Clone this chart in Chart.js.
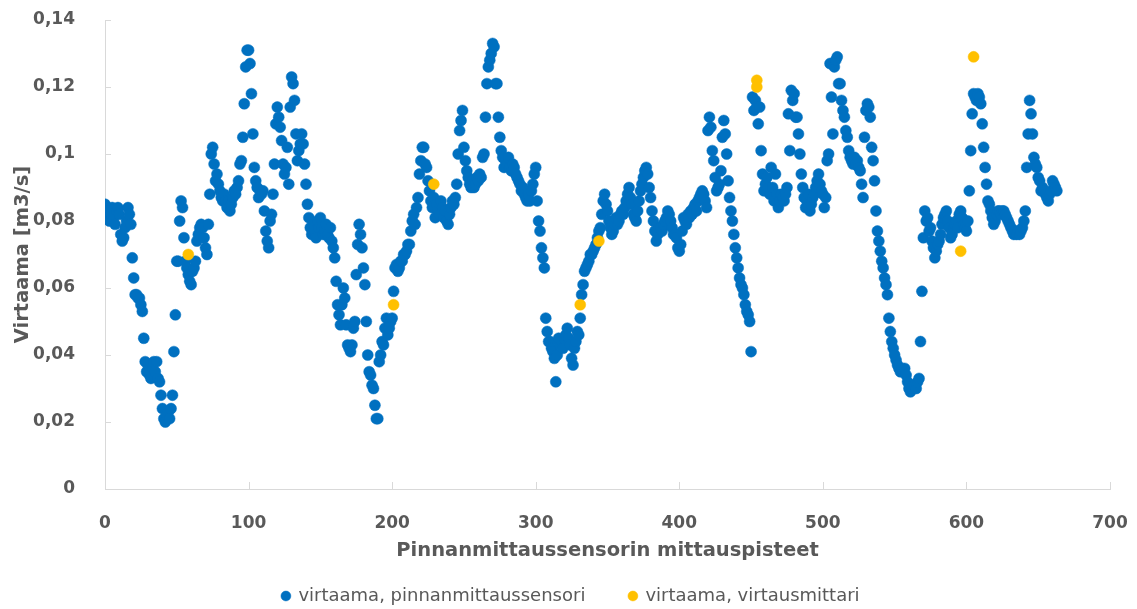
<!DOCTYPE html>
<html>
<head>
<meta charset="utf-8">
<script src="https://cdn.jsdelivr.net/npm/chart.js@4.4.1/dist/chart.umd.min.js"></script>
<style>
  html, body { margin: 0; padding: 0; background: #ffffff; }
  #wrap { width: 1137px; height: 609px; }
</style>
</head>
<body>
<div id="wrap"><canvas id="flow" width="1137" height="609"></canvas></div>
<script>
// Flow (m3/s) computed from the level sensor, one value per measurement point 0..663
const sensorFlow = [
  0.085, 0.083, 0.081, 0.080, 0.082, 0.084, 0.081, 0.079, 0.083, 0.084,
  0.082, 0.076, 0.074, 0.075, 0.078, 0.080, 0.084, 0.082, 0.079, 0.069,
  0.063, 0.058, 0.058, 0.057, 0.057, 0.055, 0.053, 0.045, 0.038, 0.035,
  0.037, 0.034, 0.033, 0.036, 0.038, 0.035, 0.038, 0.033, 0.032, 0.028,
  0.024, 0.021, 0.020, 0.022, 0.023, 0.021, 0.024, 0.028, 0.041, 0.052,
  0.068, 0.068, 0.080, 0.086, 0.084, 0.075, 0.068, 0.066, 0.064, 0.062,
  0.061, 0.065, 0.066, 0.068, 0.074, 0.076, 0.078, 0.079, 0.078, 0.075,
  0.072, 0.070, 0.079, 0.088, 0.100, 0.102, 0.097, 0.092, 0.094, 0.091,
  0.089, 0.087, 0.086, 0.088, 0.086, 0.084, 0.086, 0.083, 0.085, 0.087,
  0.089, 0.088, 0.090, 0.092, 0.097, 0.098, 0.105, 0.115, 0.126, 0.131,
  0.131, 0.127, 0.118, 0.106, 0.096, 0.092, 0.090, 0.087, 0.089, 0.088,
  0.089, 0.083, 0.077, 0.074, 0.072, 0.080, 0.082, 0.088, 0.097, 0.109,
  0.114, 0.111, 0.108, 0.104, 0.097, 0.094, 0.096, 0.102, 0.091, 0.114,
  0.123, 0.121, 0.116, 0.106, 0.098, 0.101, 0.103, 0.106, 0.103, 0.097,
  0.091, 0.085, 0.081, 0.078, 0.076, 0.079, 0.077, 0.075, 0.080, 0.078,
  0.081, 0.078, 0.076, 0.077, 0.079, 0.076, 0.075, 0.078, 0.074, 0.072,
  0.069, 0.062, 0.055, 0.052, 0.049, 0.055, 0.060, 0.057, 0.049, 0.043,
  0.042, 0.041, 0.043, 0.048, 0.050, 0.064, 0.073, 0.079, 0.076, 0.072,
  0.066, 0.061, 0.050, 0.040, 0.035, 0.034, 0.031, 0.030, 0.025, 0.021,
  0.021, 0.038, 0.040, 0.044, 0.043, 0.048, 0.051, 0.046, 0.048, 0.050,
  0.051, 0.059, 0.066, 0.067, 0.065, 0.066, 0.068, 0.068, 0.070, 0.070,
  0.071, 0.073, 0.073, 0.077, 0.080, 0.082, 0.079, 0.084, 0.087, 0.094,
  0.098, 0.102, 0.102, 0.097, 0.096, 0.092, 0.089, 0.086, 0.084, 0.087,
  0.081, 0.085, 0.083, 0.082, 0.086, 0.084, 0.081, 0.083, 0.080, 0.079,
  0.082, 0.084, 0.086, 0.085, 0.087, 0.091, 0.100, 0.107, 0.110, 0.113,
  0.102, 0.098, 0.095, 0.093, 0.091, 0.090, 0.092, 0.090, 0.091, 0.093,
  0.092, 0.094, 0.093, 0.099, 0.100, 0.111, 0.121, 0.126, 0.128, 0.130,
  0.133, 0.132, 0.121, 0.121, 0.111, 0.105, 0.101, 0.099, 0.096, 0.098,
  0.097, 0.099, 0.096, 0.095, 0.097, 0.096, 0.094, 0.093, 0.092, 0.091,
  0.089, 0.090, 0.088, 0.087, 0.086, 0.088, 0.086, 0.089, 0.091, 0.094,
  0.096, 0.086, 0.080, 0.077, 0.072, 0.069, 0.066, 0.051, 0.047, 0.044,
  0.044, 0.042, 0.041, 0.039, 0.032, 0.040, 0.045, 0.043, 0.044, 0.042,
  0.045, 0.046, 0.048, 0.045, 0.043, 0.039, 0.037, 0.042, 0.044, 0.047,
  0.046, 0.051, 0.058, 0.061, 0.065, 0.066, 0.067, 0.068, 0.070, 0.070,
  0.071, 0.072, 0.073, 0.075, 0.077, 0.078, 0.082, 0.086, 0.088, 0.085,
  0.083, 0.080, 0.078, 0.076, 0.077, 0.079, 0.081, 0.079, 0.080, 0.082,
  0.083, 0.082, 0.084, 0.086, 0.088, 0.090, 0.087, 0.085, 0.082, 0.081,
  0.080, 0.083, 0.086, 0.089, 0.091, 0.093, 0.095, 0.096, 0.094, 0.090,
  0.087, 0.083, 0.080, 0.077, 0.074, 0.076, 0.078, 0.078, 0.077, 0.079,
  0.080, 0.081, 0.083, 0.082, 0.080, 0.078, 0.076, 0.076, 0.075, 0.072,
  0.071, 0.073, 0.077, 0.081, 0.080, 0.079, 0.082, 0.081, 0.083, 0.082,
  0.084, 0.085, 0.083, 0.086, 0.087, 0.088, 0.089, 0.088, 0.086, 0.084,
  0.107, 0.111, 0.108, 0.101, 0.098, 0.093, 0.089, 0.090, 0.091, 0.095,
  0.105, 0.110, 0.106, 0.100, 0.092, 0.087, 0.083, 0.080, 0.076, 0.072,
  0.069, 0.066, 0.063, 0.061, 0.060, 0.058, 0.055, 0.053, 0.052, 0.050,
  0.041, 0.117, 0.113, 0.116, 0.114, 0.109, 0.114, 0.101, 0.094, 0.089,
  0.091, 0.093, 0.090, 0.088, 0.096, 0.090, 0.086, 0.094, 0.088, 0.084,
  0.086, 0.088, 0.087, 0.086, 0.088, 0.090, 0.112, 0.101, 0.119, 0.116,
  0.118, 0.111, 0.111, 0.106, 0.100, 0.094, 0.090, 0.087, 0.084, 0.086,
  0.088, 0.083, 0.085, 0.087, 0.088, 0.090, 0.092, 0.094, 0.091, 0.089,
  0.088, 0.084, 0.087, 0.098, 0.100, 0.127, 0.117, 0.106, 0.126, 0.128,
  0.129, 0.121, 0.121, 0.116, 0.113, 0.111, 0.107, 0.105, 0.101, 0.099,
  0.098, 0.097, 0.099, 0.097, 0.098, 0.096, 0.095, 0.091, 0.087, 0.105,
  0.113, 0.115, 0.114, 0.111, 0.102, 0.098, 0.092, 0.083, 0.077, 0.074,
  0.071, 0.068, 0.066, 0.063, 0.061, 0.058, 0.051, 0.047, 0.044, 0.042,
  0.040, 0.0385, 0.037, 0.036, 0.035, 0.036, 0.035, 0.036, 0.034, 0.032,
  0.030, 0.029, 0.030, 0.031, 0.031, 0.030, 0.032, 0.033, 0.044, 0.059,
  0.075, 0.083, 0.080, 0.081, 0.077, 0.078, 0.074, 0.072, 0.069, 0.071,
  0.073, 0.074, 0.076, 0.079, 0.081, 0.082, 0.083, 0.080, 0.078, 0.075,
  0.076, 0.078, 0.079, 0.080, 0.078, 0.082, 0.083, 0.081, 0.079, 0.078,
  0.077, 0.080, 0.089, 0.101, 0.112, 0.118, 0.117, 0.116, 0.118, 0.117,
  0.115, 0.109, 0.102, 0.096, 0.091, 0.086, 0.085, 0.083, 0.081, 0.079,
  0.080, 0.082, 0.083, 0.083, 0.082, 0.083, 0.083, 0.082, 0.081, 0.080,
  0.079, 0.078, 0.077, 0.076, 0.077, 0.076, 0.077, 0.076, 0.077, 0.078,
  0.080, 0.083, 0.096, 0.106, 0.116, 0.112, 0.106, 0.099, 0.097, 0.096,
  0.093, 0.092, 0.089, 0.090, 0.089, 0.088, 0.087, 0.086, 0.088, 0.089,
  0.092, 0.091, 0.090, 0.089
];

// Reference measurements with the flow meter
const meterPoints = [58, 201, 229, 331, 344, 454, 454, 596, 605];
const meterFlow = [0.070, 0.055, 0.091, 0.055, 0.074, 0.122, 0.120, 0.071, 0.129];

const seriesNames = ['virtaama, pinnanmittaussensori', 'virtaama, virtausmittari'];
const xTitle = 'Pinnanmittaussensorin mittauspisteet';
const yTitle = 'Virtaama [m3/s]';

const textGray = '#595959';
const axisGray = '#D9D9D9';

// decimal comma like in the Finnish locale
const fmtFlow = (v) => v === 0 ? '0' : String(+v.toFixed(2)).replace('.', ',');

// keep the plot box where the layout padding puts it (no extra room for edge labels)
const noEdgePadding = (scale) => {
  scale.paddingTop = 0;
  scale.paddingBottom = 0;
  scale.paddingLeft = 0;
  scale.paddingRight = 0;
};

// small inward tick marks + the two axis titles
const axisDecor = {
  id: 'axisDecor',
  beforeDatasetsDraw(chart) {
    const {ctx, chartArea, scales: {x, y}} = chart;
    ctx.save();
    ctx.strokeStyle = axisGray;
    ctx.lineWidth = 1;
    ctx.beginPath();
    y.ticks.forEach(t => {
      const py = Math.round(y.getPixelForValue(t.value)) + 0.5;
      ctx.moveTo(chartArea.left, py);
      ctx.lineTo(chartArea.left + 6, py);
    });
    x.ticks.forEach(t => {
      const px = Math.round(x.getPixelForValue(t.value)) + 0.5;
      ctx.moveTo(px, chartArea.bottom);
      ctx.lineTo(px, chartArea.bottom - 7);
    });
    ctx.stroke();
    ctx.restore();
  },
  afterDraw(chart) {
    const {ctx, chartArea} = chart;
    ctx.save();
    ctx.fillStyle = textGray;
    ctx.font = 'bold 19.5px "DejaVu Sans"';
    ctx.textAlign = 'center';
    ctx.textBaseline = 'middle';
    ctx.fillText(xTitle, (chartArea.left + chartArea.right) / 2, chartArea.bottom + 62);
    ctx.translate(23, (chartArea.top + chartArea.bottom) / 2);
    ctx.rotate(-Math.PI / 2);
    ctx.fillText(yTitle, 0, 0);
    ctx.restore();
  }
};

const tickFont = { family: 'DejaVu Sans', size: 17, weight: 'bold' };

new Chart(document.getElementById('flow'), {
  type: 'scatter',
  data: {
    datasets: [
      {
        label: seriesNames[0],
        data: sensorFlow.map((v, i) => ({ x: i, y: v })),
        backgroundColor: '#0070C0',
        borderColor: '#0070C0',
        pointRadius: 5.5,
        pointBorderWidth: 0.5,
        order: 2
      },
      {
        label: seriesNames[1],
        data: meterPoints.map((p, i) => ({ x: p, y: meterFlow[i] })),
        backgroundColor: '#FFC000',
        borderColor: '#FFC000',
        pointRadius: 5.5,
        pointBorderWidth: 0.5,
        order: 1
      }
    ]
  },
  options: {
    responsive: false,
    animation: false,
    devicePixelRatio: 1,
    layout: { padding: { top: 20, right: 27, bottom: -6, left: 32 } },
    plugins: {
      tooltip: { enabled: false },
      legend: {
        position: 'bottom',
        labels: {
          usePointStyle: true,
          pointStyle: 'circle',
          boxWidth: 7,
          boxHeight: 7,
          padding: 44,
          color: textGray,
          font: { family: 'DejaVu Sans', size: 18 },
          sort: (a, b) => a.datasetIndex - b.datasetIndex
        }
      }
    },
    scales: {
      x: {
        type: 'linear',
        min: 0,
        max: 700,
        grid: { display: false },
        border: { display: true, color: axisGray, width: 1 },
        ticks: { stepSize: 100, color: textGray, font: tickFont, padding: 16, maxRotation: 0 },
        afterFit: (scale) => { scale.height = 54; noEdgePadding(scale); }
      },
      y: {
        min: 0,
        max: 0.14,
        grid: { display: false },
        border: { display: true, color: axisGray, width: 1 },
        ticks: { stepSize: 0.02, color: textGray, font: tickFont, padding: 22, callback: fmtFlow },
        afterFit: (scale) => { scale.width = 73; noEdgePadding(scale); }
      }
    }
  },
  plugins: [axisDecor]
});
</script>
</body>
</html>
